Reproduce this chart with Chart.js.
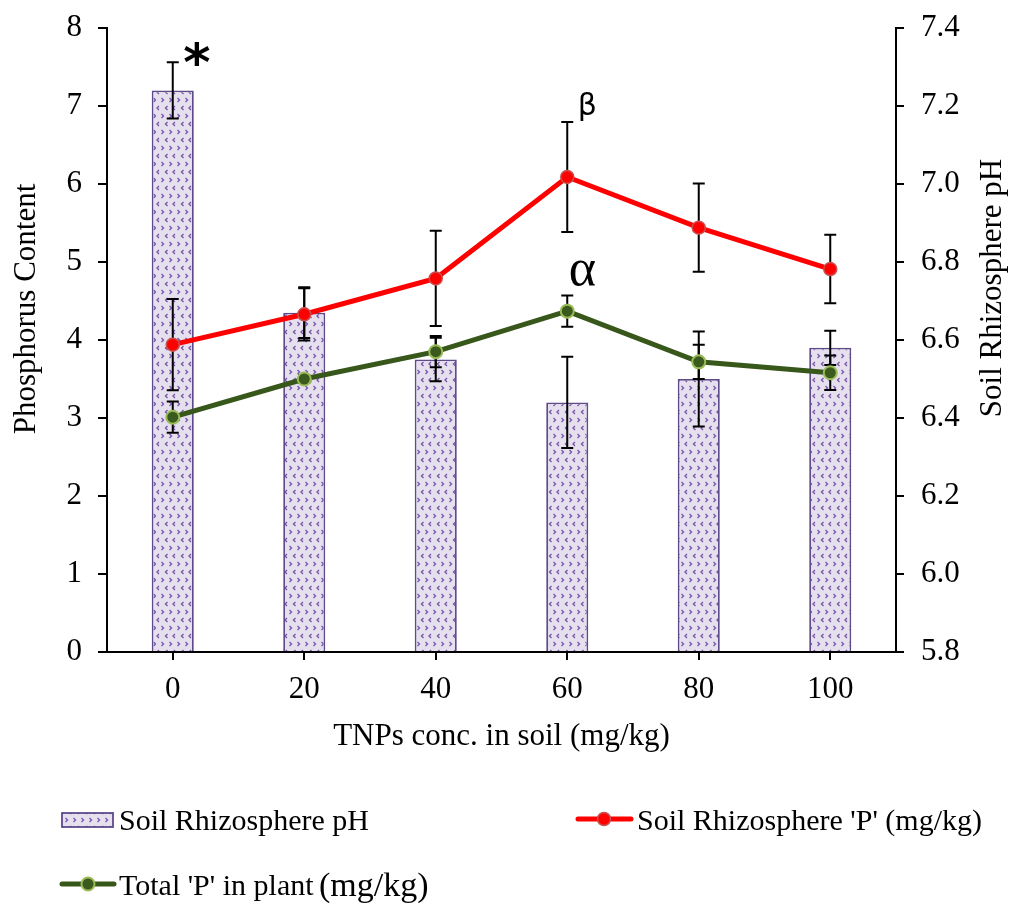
<!DOCTYPE html>
<html>
<head>
<meta charset="utf-8">
<script src="https://cdn.jsdelivr.net/npm/chart.js@4.4.1/dist/chart.umd.min.js"></script>
<style>
  html, body { margin: 0; padding: 0; background: #fff; }
  canvas { display: block; }
</style>
</head>
<body>
<canvas id="chart" width="1013" height="904"></canvas>
<script>
// ----- Data -----
const categories = ["0", "20", "40", "60", "80", "100"];
const soilPH = [7.24, 6.67, 6.55, 6.44, 6.50, 6.58];          // bars, right axis
const soilPHErr = [0.072, 0.065, 0.056, 0.117, 0.122, 0.044];
const soilP = [3.94, 4.33, 4.79, 6.09, 5.44, 4.91];           // red line, left axis
const soilPErr = [0.585, 0.335, 0.61, 0.705, 0.565, 0.44];
const plantP = [3.01, 3.50, 3.85, 4.37, 3.72, 3.58];          // green line, left axis
const plantPErr = [0.20, 0.05, 0.20, 0.20, 0.22, 0.22];
const leftTicks = [0, 1, 2, 3, 4, 5, 6, 7, 8];
const rightTicks = [5.8, 6.0, 6.2, 6.4, 6.6, 6.8, 7.0, 7.2, 7.4];

const SERIF = "'Liberation Serif', 'Times New Roman', serif";
const RED = "#ff0000";
const GREEN = "#38571a";
const BAR_EDGE = "#5e4b8a";

// bar fill: lavender with little purple chevrons
function makePattern(ctx) {
  const c = document.createElement("canvas");
  c.width = 16; c.height = 16;
  const g = c.getContext("2d");
  g.fillStyle = "#e6e0ee";
  g.fillRect(0, 0, 16, 16);
  g.strokeStyle = "#7452a8";
  g.lineWidth = 1.3;
  const chev = (x, y, right) => {
    g.beginPath();
    if (right) { g.moveTo(x, y - 2); g.lineTo(x + 2, y); g.lineTo(x, y + 2); }
    else { g.moveTo(x + 2, y - 2); g.lineTo(x, y); g.lineTo(x + 2, y + 2); }
    g.stroke();
  };
  chev(1.5, 4, true); chev(9.5, 4, true);
  chev(5.5, 12, false); chev(13, 12, false);
  return ctx.createPattern(c, "repeat");
}

const canvas = document.getElementById("chart");
const pattern = makePattern(canvas.getContext("2d"));

function drawErr(ctx, x, y1, y2) {
  ctx.beginPath();
  ctx.moveTo(x, y1); ctx.lineTo(x, y2);
  ctx.moveTo(x - 6, y1); ctx.lineTo(x + 6, y1);
  ctx.moveTo(x - 6, y2); ctx.lineTo(x + 6, y2);
  ctx.stroke();
}

// error bars go on top of the bars but under the line markers
const errorBars = {
  id: "errorBars",
  afterDatasetDraw(chart, args) {
    if (args.meta.type !== "bar") return;
    const { ctx } = chart;
    const yL = chart.scales.y, yR = chart.scales.y1;
    const xs = args.meta.data.map(b => b.x);
    ctx.save();
    ctx.strokeStyle = "#000";
    ctx.lineWidth = 2;
    xs.forEach((x, i) => {
      drawErr(ctx, x, yR.getPixelForValue(soilPH[i] + soilPHErr[i]), yR.getPixelForValue(soilPH[i] - soilPHErr[i]));
      drawErr(ctx, x, yL.getPixelForValue(soilP[i] + soilPErr[i]), yL.getPixelForValue(soilP[i] - soilPErr[i]));
      drawErr(ctx, x, yL.getPixelForValue(plantP[i] + plantPErr[i]), yL.getPixelForValue(plantP[i] - plantPErr[i]));
    });
    ctx.restore();
  }
};

const extras = {
  id: "extras",
  afterDraw(chart) {
    const { ctx, chartArea } = chart;
    const x = chart.scales.x, yL = chart.scales.y, yR = chart.scales.y1;
    const mid = (chartArea.top + chartArea.bottom) / 2;
    ctx.save();
    ctx.fillStyle = "#000";

    // axis titles
    ctx.font = "31px " + SERIF;
    ctx.textAlign = "center";
    ctx.textBaseline = "middle";
    ctx.save();
    ctx.translate(27, mid - 31);
    ctx.rotate(-Math.PI / 2);
    ctx.fillText("Phosphorus Content", 0, 0);
    ctx.restore();
    ctx.save();
    ctx.translate(993, mid - 52);
    ctx.rotate(-Math.PI / 2);
    ctx.fillText("Soil Rhizosphere pH", 0, 0);
    ctx.restore();

    // significance marks
    const x0 = x.getPixelForValue(0), x60 = x.getPixelForValue(3);
    ctx.font = "bold 52px 'DejaVu Sans', sans-serif";
    ctx.fillText("*", x0 + 24, yR.getPixelForValue(soilPH[0] + soilPHErr[0]) + 4);
    ctx.font = "30px 'DejaVu Sans', sans-serif";
    ctx.fillText("\u03B2", x60 + 20, yL.getPixelForValue(soilP[3] + soilPErr[3]) - 15);
    ctx.font = "52px " + SERIF;
    ctx.fillText("\u03B1", x60 + 15, yL.getPixelForValue(plantP[3] + plantPErr[3]) - 24);

    // legend
    ctx.textAlign = "left";
    ctx.textBaseline = "alphabetic";
    ctx.font = "30px " + SERIF;
    // bars
    ctx.fillStyle = pattern;
    ctx.fillRect(62, 813, 51, 14);
    ctx.strokeStyle = BAR_EDGE;
    ctx.lineWidth = 1.8;
    ctx.strokeRect(62, 813, 51, 14);
    ctx.fillStyle = "#000";
    ctx.fillText("Soil Rhizosphere pH", 119, 830);
    // red line
    ctx.lineCap = "round";
    ctx.strokeStyle = RED;
    ctx.lineWidth = 5;
    ctx.beginPath(); ctx.moveTo(578, 819); ctx.lineTo(631, 819); ctx.stroke();
    ctx.beginPath(); ctx.arc(604, 819, 6.5, 0, Math.PI * 2);
    ctx.fillStyle = RED; ctx.fill();
    ctx.strokeStyle = "#c95050"; ctx.lineWidth = 1.5; ctx.stroke();
    ctx.fillStyle = "#000";
    ctx.fillText("Soil Rhizosphere 'P' (mg/kg)", 637, 830);
    // green line
    ctx.strokeStyle = GREEN;
    ctx.lineWidth = 5;
    ctx.beginPath(); ctx.moveTo(62, 884); ctx.lineTo(114, 884); ctx.stroke();
    ctx.beginPath(); ctx.arc(88, 884, 6.5, 0, Math.PI * 2);
    ctx.fillStyle = "#3b5b1e"; ctx.fill();
    ctx.strokeStyle = "#9bbb59"; ctx.lineWidth = 2; ctx.stroke();
    ctx.fillStyle = "#000";
    const t = "Total 'P' in plant ";
    ctx.fillText(t, 119, 895);
    const w = ctx.measureText(t).width;
    ctx.font = "34px " + SERIF;
    ctx.fillText("(mg/kg)", 119 + w - 2, 896);
    ctx.restore();
  }
};

const axisGrid = { drawOnChartArea: false, color: "#000", lineWidth: 2, tickLength: 9 };
const tickFont = { family: SERIF, size: 31 };

// keep the plot box fixed: no extra room for overhanging tick labels
function fixY(width) {
  return s => { s.width = width; s.paddingTop = 0; s.paddingBottom = 0; };
}

new Chart(canvas, {
  type: "bar",
  data: {
    labels: categories,
    datasets: [
      {
        type: "line", label: "Soil Rhizosphere 'P' (mg/kg)", data: soilP, yAxisID: "y", order: 1,
        borderColor: RED, borderWidth: 5, tension: 0,
        pointRadius: 6.5, pointBackgroundColor: RED, pointBorderColor: "#c95050", pointBorderWidth: 1.5
      },
      {
        type: "line", label: "Total 'P' in plant (mg/kg)", data: plantP, yAxisID: "y", order: 2,
        borderColor: GREEN, borderWidth: 5, tension: 0,
        pointRadius: 6.5, pointBackgroundColor: "#3b5b1e", pointBorderColor: "#9bbb59", pointBorderWidth: 2
      },
      {
        type: "bar", label: "Soil Rhizosphere pH", data: soilPH, yAxisID: "y1", order: 3,
        backgroundColor: pattern, borderColor: BAR_EDGE, borderWidth: 1.8,
        base: rightTicks[0], categoryPercentage: 1, barPercentage: 0.32
      }
    ]
  },
  options: {
    responsive: false,
    animation: false,
    layout: { padding: { top: 28, left: 0, right: 0, bottom: 0 } },
    plugins: { legend: { display: false }, tooltip: { enabled: false } },
    scales: {
      x: {
        offset: true,
        grid: { ...axisGrid, offset: false, tickLength: 8 },
        border: { color: "#000", width: 2 },
        ticks: { color: "#000", font: tickFont, padding: 11 },
        title: {
          display: true, text: "TNPs conc. in soil (mg/kg)", color: "#000",
          font: { family: SERIF, size: 31 }, padding: { top: 0, bottom: 149 }
        },
        afterFit: s => { s.height = 252; s.paddingLeft = 0; s.paddingRight = 0; }
      },
      y: {
        position: "left", min: leftTicks[0], max: leftTicks[leftTicks.length - 1],
        afterBuildTicks: s => { s.ticks = leftTicks.map(v => ({ value: v })); },
        grid: axisGrid,
        border: { color: "#000", width: 2 },
        ticks: { color: "#000", font: tickFont, padding: 16 },
        afterFit: fixY(107)
      },
      y1: {
        position: "right", min: rightTicks[0], max: rightTicks[rightTicks.length - 1],
        afterBuildTicks: s => { s.ticks = rightTicks.map(v => ({ value: v })); },
        grid: { ...axisGrid, tickLength: 8 },
        border: { color: "#000", width: 2 },
        ticks: { color: "#000", font: tickFont, padding: 17, callback: v => Number(v).toFixed(1) },
        afterFit: fixY(117)
      }
    }
  },
  plugins: [errorBars, extras]
});
</script>
</body>
</html>
